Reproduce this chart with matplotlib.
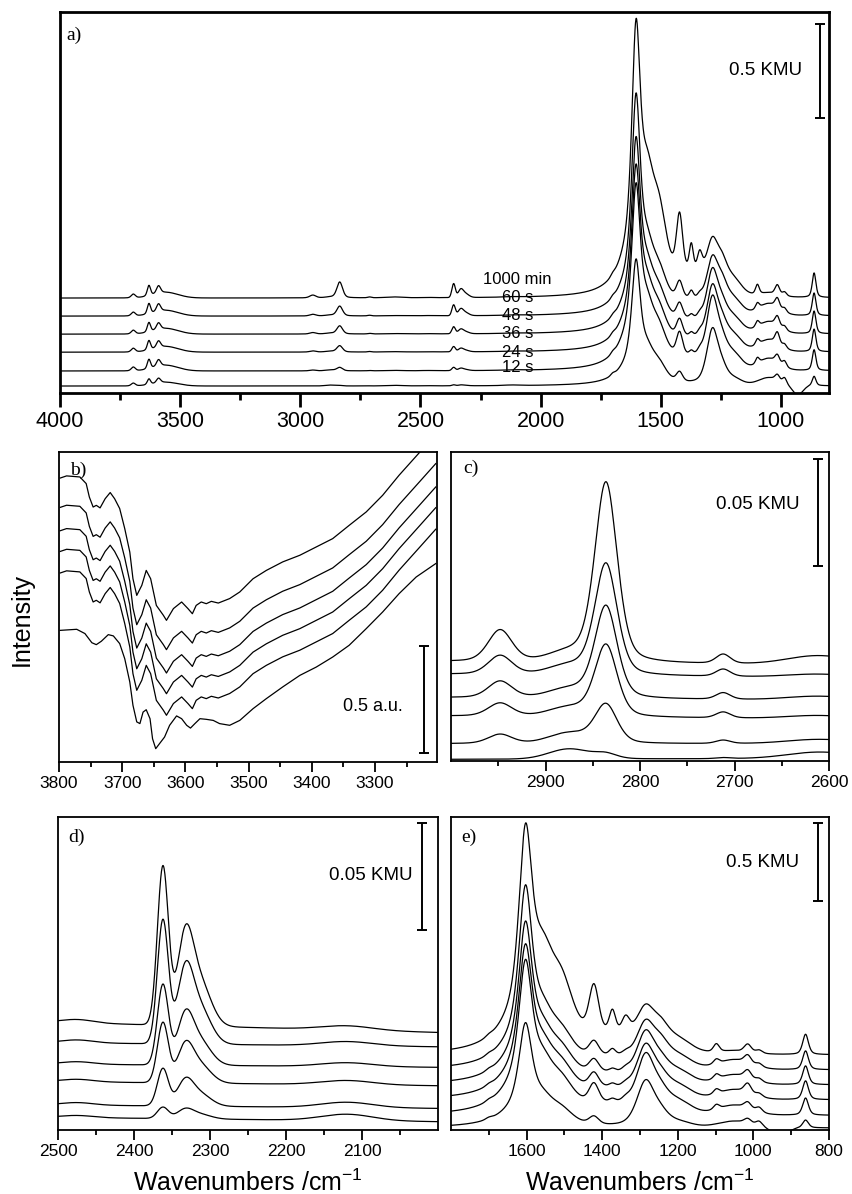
import numpy as np
import matplotlib
matplotlib.use("Agg")
import matplotlib.pyplot as plt
from matplotlib.ticker import FixedLocator

plt.rcParams['font.family'] = ['Liberation Sans', 'DejaVu Sans']
plt.rcParams['mathtext.fontset'] = 'custom'
plt.rcParams['mathtext.rm'] = 'Liberation Sans'

# spectra, top to bottom
times = ["1000 min", "60 s", "48 s", "36 s", "24 s", "12 s"]

# fingerprint bands (panels a and e), KMU
fp_center = [1603, 1610, 1558, 1508, 1422, 1373, 1338, 1285, 1245, 1200, 1098, 1050, 1015, 985, 862, 1700, 1380, 930]
fp_width = [20, 60, 30, 35, 15, 10, 12, 28, 25, 40, 9, 50, 11, 10, 9, 10, 120, 25]
fp_eta = [0.6, 1.0, 0.3, 0.3, 0.3, 0.3, 0.3, 0.5, 0.3, 0.0, 0.3, 0.0, 0.3, 0.3, 0.5, 0.3, 0.0, 0.0]
fp_amp = [
    [1.07, 0.88, 0.75, 0.70, 0.70, 0.50],
    [0.30, 0.25, 0.25, 0.25, 0.25, 0.15],
    [0.40, 0.20, 0.18, 0.18, 0.18, 0.10],
    [0.34, 0.15, 0.14, 0.14, 0.14, 0.08],
    [0.30, 0.09, 0.08, 0.09, 0.12, 0.05],
    [0.14, 0.04, 0.02, 0.02, 0.02, 0.00],
    [0.10, 0.02, 0.02, 0.02, 0.02, 0.00],
    [0.22, 0.25, 0.29, 0.30, 0.34, 0.29],
    [0.10, 0.10, 0.08, 0.08, 0.08, 0.06],
    [0.07, 0.07, 0.07, 0.07, 0.07, 0.03],
    [0.05, 0.03, 0.03, 0.03, 0.03, 0.00],
    [0.02, 0.06, 0.06, 0.06, 0.06, 0.04],
    [0.05, 0.05, 0.05, 0.06, 0.04, 0.03],
    [0.02, 0.02, 0.02, 0.02, 0.03, 0.03],
    [0.13, 0.12, 0.12, 0.12, 0.11, 0.05],
    [0.01, 0.01, 0.01, 0.01, 0.01, 0.01],
    [0.10, 0.06, 0.05, 0.05, 0.05, 0.00],
    [0.00, 0.00, 0.00, 0.00, 0.00, -0.05],
]
ae_offset = [0.48, 0.384, 0.288, 0.192, 0.092, 0.012]

# OH region bands (panel a only)
oh_center = [3695, 3630, 3590, 3560]
oh_width = [10, 8, 10, 60]
oh_eta = [0.3, 0.3, 0.3, 0.0]
oh_amp = [
    [0.020, 0.020, 0.020, 0.020, 0.020, 0.015],
    [0.055, 0.055, 0.050, 0.050, 0.050, 0.030],
    [0.040, 0.040, 0.035, 0.035, 0.035, 0.025],
    [0.030, 0.030, 0.030, 0.030, 0.030, 0.020],
]

# CH region bands (panel c)
ch_center = [2948, 2875, 2836, 2712, 2610]
ch_width = [15, 25, 14, 9, 40]
ch_eta = [0.3, 0.0, 0.35, 0.3, 0.0]
ch_amp = [
    [0.0148, 0.0089, 0.0078, 0.0062, 0.0044, 0.0],
    [0.0040, 0.0040, 0.0040, 0.0040, 0.0047, 0.0047],
    [0.0840, 0.0520, 0.0430, 0.0335, 0.0180, 0.0023],
    [0.0044, 0.0034, 0.0031, 0.0028, 0.0016, 0.0005],
    [0.0044, 0.0016, 0.0019, 0.0016, 0.0020, 0.0030],
]
c_left = [0.0464, 0.0405, 0.0296, 0.0210, 0.0081, 0.0008]
c_right = [0.0447, 0.0389, 0.0283, 0.0196, 0.0081, 0.0012]

# CO2 region bands (panel d)
co_center = [2475, 2362, 2333, 2315, 2120]
co_width = [25, 8.5, 12, 18, 40]
co_eta = [0.0, 0.0, 0.0, 0.0, 0.0]
co_amp = [
    [0.0016, 0.0014, 0.0012, 0.0012, 0.0012, 0.0010],
    [0.0738, 0.0576, 0.0374, 0.0280, 0.0174, 0.0053],
    [0.0359, 0.0294, 0.0198, 0.0150, 0.0102, 0.0038],
    [0.0215, 0.0176, 0.0119, 0.0090, 0.0061, 0.0023],
    [0.0020, 0.0020, 0.0018, 0.0020, 0.0025, 0.0030],
]
d_left = [0.0503, 0.0408, 0.0308, 0.0226, 0.0117, 0.0059]
d_right = [0.0456, 0.0389, 0.0293, 0.0207, 0.0101, 0.0039]

b_wn = [3798, 3788, 3767, 3757, 3752, 3746, 3741, 3735, 3727, 3719, 3712, 3704, 3696, 3688, 3683,
        3677, 3669, 3662, 3655, 3646, 3635, 3630, 3619, 3606, 3596, 3589, 3583, 3575, 3567, 3559,
        3548, 3530, 3514, 3493, 3472, 3446, 3419, 3393, 3367, 3341, 3314, 3288, 3262, 3229, 3204]
b_top = [1.331, 1.341, 1.336, 1.305, 1.242, 1.195, 1.203, 1.191, 1.234, 1.263, 1.234, 1.188, 1.094, 0.984, 0.859,
         0.781, 0.828, 0.898, 0.859, 0.734, 0.688, 0.664, 0.719, 0.750, 0.719, 0.695, 0.734, 0.750, 0.742, 0.753,
         0.745, 0.766, 0.797, 0.859, 0.898, 0.938, 0.969, 1.008, 1.047, 1.109, 1.172, 1.250, 1.344, 1.453, 1.536]
b_shift = [0.0, 0.1375, 0.247, 0.344, 0.445]
b_wn_low = [3798, 3772, 3759, 3748, 3741, 3733, 3722, 3714, 3704, 3696, 3688, 3683, 3677, 3672, 3667,
            3662, 3656, 3652, 3647, 3641, 3633, 3625, 3614, 3606, 3598, 3592, 3585, 3577, 3567, 3556,
            3546, 3530, 3514, 3493, 3472, 3446, 3419, 3393, 3367, 3341, 3314, 3288, 3262, 3235, 3204]
b_low = [0.617, 0.622, 0.602, 0.559, 0.550, 0.566, 0.597, 0.591, 0.555, 0.484, 0.375, 0.266, 0.188, 0.180, 0.234,
         0.245, 0.203, 0.109, 0.0625, 0.086, 0.117, 0.172, 0.216, 0.203, 0.172, 0.159, 0.180, 0.203, 0.200, 0.195,
         0.180, 0.172, 0.195, 0.250, 0.297, 0.352, 0.406, 0.445, 0.492, 0.547, 0.625, 0.703, 0.789, 0.867, 0.930]


def band(x, c, w, eta):
    z = ((x - c) / w) ** 2
    return eta / (1 + z) + (1 - eta) * np.exp(-np.log(2) * z)


def bands(x, centers, widths, etas, amps, i):
    y = np.zeros_like(x)
    for c, w, e, a in zip(centers, widths, etas, amps):
        y += a[i] * band(x, c, w, e)
    return y


def style(ax, major, minor, size, tlen, lw):
    ax.set_yticks([])
    ax.xaxis.set_major_locator(FixedLocator(major))
    ax.xaxis.set_minor_locator(FixedLocator(minor))
    ax.tick_params(axis='x', which='major', direction='out', length=tlen, width=lw, labelsize=size, pad=3)
    ax.tick_params(axis='x', which='minor', direction='out', length=tlen * 0.5, width=lw)
    for s in ax.spines.values():
        s.set_linewidth(lw)


def scalebar(ax, x, y0, h, label, tx, ty, fs=13.5):
    ax.errorbar([x], [y0 + h / 2], yerr=[h / 2], fmt='none', ecolor='k',
                elinewidth=1.4, capsize=3.5, capthick=1.4)
    ax.text(tx, ty, label, fontsize=fs, ha='center', va='center')


def letter(ax, s, x, y):
    ax.text(x, y, s, transform=ax.transAxes, fontsize=14, family='Liberation Serif',
            ha='left', va='center')


fig = plt.figure(figsize=(8.52, 11.94), dpi=100)
W, H = 852, 1194


def box(l, r, t, b):
    return [l / W, 1 - b / H, (r - l) / W, (b - t) / H]


lw_line = 0.9

# panel a
ax = fig.add_axes(box(60, 829, 12, 393))
x = np.linspace(4000, 800, 3200)
for i in range(6):
    y = (bands(x, fp_center, fp_width, fp_eta, fp_amp, i)
         + bands(x, oh_center, oh_width, oh_eta, oh_amp, i)
         + bands(x, ch_center, ch_width, ch_eta, ch_amp, i)
         + bands(x, co_center, co_width, co_eta, co_amp, i))
    ax.plot(x, y + ae_offset[i], color='k', lw=lw_line)
    ax.text(2096, ae_offset[i] + 0.097, times[i], fontsize=12, ha='center', va='center')
ax.set_xlim(4000, 800)
ax.set_ylim(-0.025, 2.002)
style(ax, [4000, 3500, 3000, 2500, 2000, 1500, 1000], np.arange(3750, 800, -500), 15.5, 10, 2.0)
scalebar(ax, 837, 1.438, 0.5, "0.5 KMU", 1062, 1.693)
letter(ax, "a)", 0.008, 0.938)

# panel b
ax = fig.add_axes(box(59, 437, 452, 762))
for i in range(5):
    ax.plot(b_wn, np.array(b_top) - b_shift[i], color='k', lw=lw_line)
ax.plot(b_wn_low, b_low, color='k', lw=lw_line)
ax.set_xlim(3800, 3202)
ax.set_ylim(0, 1.453)
style(ax, [3800, 3700, 3600, 3500, 3400, 3300], np.arange(3750, 3200, -100), 12.5, 7, 1.3)
scalebar(ax, 3222, 0.042, 0.5, "0.5 a.u.", 3303, 0.258, fs=13)
letter(ax, "b)", 0.03, 0.942)

# panel c
ax = fig.add_axes(box(451, 829, 452, 761))
x = np.linspace(3000, 2600, 800)
t = (3000 - x) / 400
for i in range(6):
    y = bands(x, ch_center, ch_width, ch_eta, ch_amp, i) + c_left[i] + (c_right[i] - c_left[i]) * t
    ax.plot(x, y, color='k', lw=lw_line)
ax.set_xlim(3000, 2600)
ax.set_ylim(0, 0.1444)
style(ax, [2900, 2800, 2700, 2600], [2950, 2850, 2750, 2650], 12.5, 7, 1.3)
scalebar(ax, 2611.6, 0.0911, 0.05, "0.05 KMU", 2675, 0.120)
letter(ax, "c)", 0.032, 0.948)

# panel d
ax = fig.add_axes(box(58, 438, 817, 1130))
x = np.linspace(2500, 2000, 1000)
t = (2500 - x) / 500
for i in range(6):
    y = bands(x, co_center, co_width, co_eta, co_amp, i) + d_left[i] + (d_right[i] - d_left[i]) * t
    ax.plot(x, y, color='k', lw=lw_line)
ax.set_xlim(2500, 2000)
ax.set_ylim(0, 0.1463)
style(ax, [2500, 2400, 2300, 2200, 2100], [2450, 2350, 2250, 2150, 2050], 12.5, 7, 1.3)
scalebar(ax, 2021, 0.0935, 0.05, "0.05 KMU", 2089, 0.119)
letter(ax, "d)", 0.026, 0.936)

# panel e
ax = fig.add_axes(box(451, 829, 817, 1130))
x = np.linspace(1800, 800, 2000)
for i in range(6):
    y = bands(x, fp_center, fp_width, fp_eta, fp_amp, i) + ae_offset[i]
    ax.plot(x, y, color='k', lw=lw_line)
ax.set_xlim(1800, 800)
ax.set_ylim(0, 2.006)
style(ax, [1600, 1400, 1200, 1000, 800], [1700, 1500, 1300, 1100, 900], 12.5, 7, 1.3)
scalebar(ax, 829, 1.468, 0.5, "0.5 KMU", 975, 1.712)
letter(ax, "e)", 0.026, 0.936)

fig.text(22 / W, 1 - 620 / H, "Intensity", rotation=90, fontsize=18, ha='center', va='center')
fig.text(248 / W, 1 - 1183 / H, "Wavenumbers /cm$^{-1}$", fontsize=18, ha='center', va='center')
fig.text(640 / W, 1 - 1183 / H, "Wavenumbers /cm$^{-1}$", fontsize=18, ha='center', va='center')

fig.savefig("out.png", dpi=100)
